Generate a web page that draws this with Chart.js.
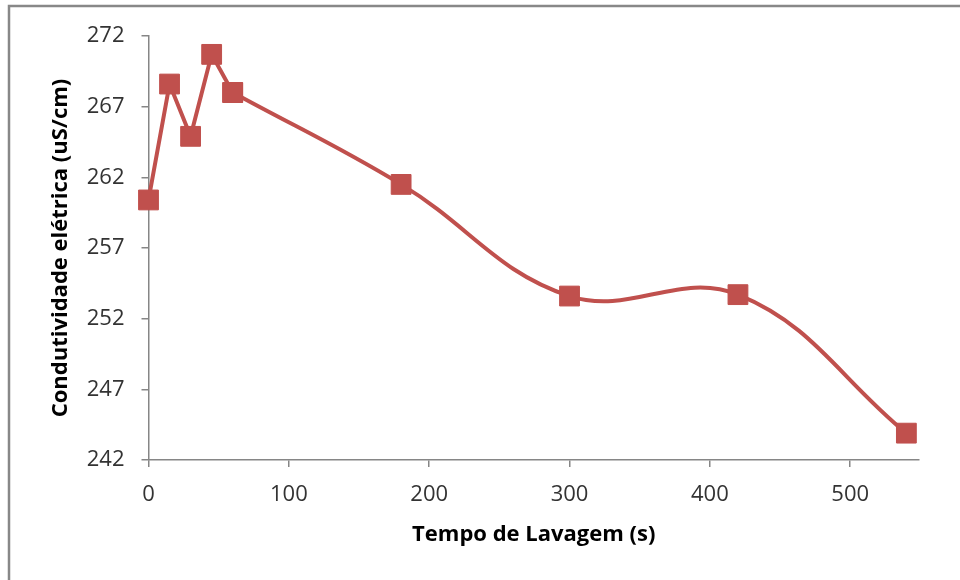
<!DOCTYPE html>
<html>
<head>
<meta charset="utf-8">
<script src="https://cdn.jsdelivr.net/npm/chart.js@4.4.1/dist/chart.umd.min.js"></script>
<style>
  html, body { margin: 0; padding: 0; background: #fff; overflow: hidden; }
  #wrap { width: 960px; height: 580px; position: relative; }
</style>
</head>
<body>
<div id="wrap"><canvas id="chart" width="960" height="580"></canvas></div>
<script>
// Tempo de lavagem (s) e condutividade elétrica (uS/cm)
const tempos = [0, 15, 30, 45, 60, 180, 300, 420, 540]
const condutividade = [260.4, 268.6, 264.9, 270.7, 268.0, 261.5, 253.6, 253.7, 243.9]
const yTicks = [242, 247, 252, 257, 262, 267, 272]
const xTicks = [0, 100, 200, 300, 400, 500]

const red = "#C0504D"
const axisGray = "#868686"

// the first few points are close together, Excel draws them almost straight
const splitAt = 4
const toPoints = (from, to) =>
  tempos.slice(from, to).map((t, i) => ({ x: t, y: condutividade[from + i] }))

// Moldura cinza do gráfico (borda superior e esquerda)
const framePlugin = {
  id: "frame",
  beforeDraw(chart) {
    const ctx = chart.ctx
    ctx.save()
    ctx.strokeStyle = "#888888"
    ctx.lineWidth = 2.5
    ctx.beginPath()
    ctx.moveTo(9, 1000)
    ctx.lineTo(9, 6)
    ctx.lineTo(1000, 6)
    ctx.stroke()
    ctx.restore()
  },
}

const seriesStyle = {
  borderColor: red,
  backgroundColor: red,
  borderWidth: 4,
  pointStyle: "rect",
  pointRadius: 14,
  pointBorderWidth: 1,
  pointBorderColor: red,
  pointBackgroundColor: red,
  clip: false,
}

const ctx = document.getElementById("chart").getContext("2d")
new Chart(ctx, {
  type: "line",
  data: {
    datasets: [
      { ...seriesStyle, data: toPoints(0, splitAt + 1), tension: 0 },
      { ...seriesStyle, data: toPoints(splitAt), tension: 0.4 },
    ],
  },
  options: {
    responsive: false,
    animation: false,
    layout: { padding: { top: 36, right: 41, bottom: 0, left: 0 } },
    plugins: {
      legend: { display: false },
      tooltip: { enabled: false },
    },
    scales: {
      x: {
        type: "linear",
        min: 0,
        max: 549,
        afterBuildTicks: (scale) => {
          scale.ticks = xTicks.map((v) => ({ value: v }))
        },
        afterFit: (scale) => {
          scale.height = 120
        },
        border: { color: axisGray, width: 1.5 },
        grid: { drawOnChartArea: false, color: axisGray, tickLength: 7, lineWidth: 1.5 },
        ticks: {
          includeBounds: false,
          padding: 15,
          color: "#333333",
          font: { family: "Open Sans", size: 22 },
        },
        title: {
          display: true,
          text: "Tempo de Lavagem (s)",
          color: "#000000",
          font: { family: "Open Sans", size: 22, weight: "bold" },
          padding: { top: 0, bottom: 32 },
        },
      },
      y: {
        min: 242,
        max: 272,
        afterBuildTicks: (scale) => {
          scale.ticks = yTicks.map((v) => ({ value: v }))
        },
        afterFit: (scale) => {
          scale.width = 148.5
        },
        border: { color: axisGray, width: 1.5 },
        grid: { drawOnChartArea: false, color: axisGray, tickLength: 7, lineWidth: 1.5 },
        ticks: {
          padding: 17,
          color: "#333333",
          font: { family: "Open Sans", size: 22 },
        },
        title: {
          display: true,
          text: "Condutividade elétrica (uS/cm)",
          color: "#000000",
          font: { family: "Open Sans", size: 22, weight: "bold" },
          padding: { top: 48, bottom: 0 },
        },
      },
    },
  },
  plugins: [framePlugin],
})
</script>
</body>
</html>
